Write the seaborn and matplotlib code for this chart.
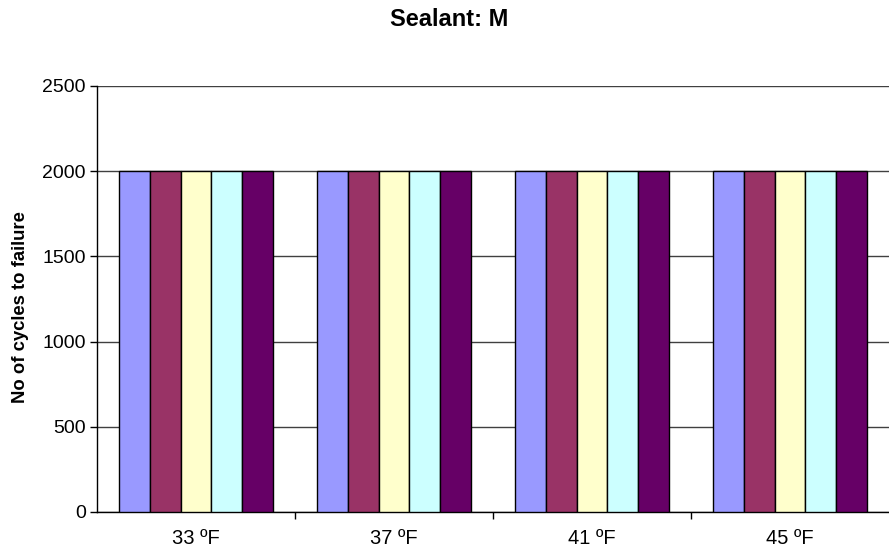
import numpy as np
import pandas as pd
import matplotlib
matplotlib.use("Agg")
import matplotlib.pyplot as plt
import seaborn as sns

# Data
temperatures = ["33 ºF", "37 ºF", "41 ºF", "45 ºF"]
series_names = ["Series1", "Series2", "Series3", "Series4", "Series5"]
cycles_s1 = [2000, 2000, 2000, 2000]
cycles_s2 = [2000, 2000, 2000, 2000]
cycles_s3 = [2000, 2000, 2000, 2000]
cycles_s4 = [2000, 2000, 2000, 2000]
cycles_s5 = [2000, 2000, 2000, 2000]
bar_colors = ["#9999FF", "#993366", "#FFFFCC", "#CCFFFF", "#660066"]

all_series = [cycles_s1, cycles_s2, cycles_s3, cycles_s4, cycles_s5]
df = pd.DataFrame({
    "Temperature": np.tile(temperatures, len(series_names)),
    "Series": np.repeat(series_names, len(temperatures)),
    "Cycles": np.concatenate(all_series),
})

sns.set_theme(style="white")
plt.rcParams["font.family"] = ["Liberation Sans", "DejaVu Sans"]
plt.rcParams["text.color"] = "black"
plt.rcParams["axes.labelcolor"] = "black"
plt.rcParams["xtick.color"] = "black"
plt.rcParams["ytick.color"] = "black"

fig = plt.figure(figsize=(8.89, 5.5), dpi=100)
ax = fig.add_axes([97 / 889, 1 - 512 / 550, 1 - 97 / 889, (512 - 86) / 550])

sns.barplot(
    data=df, x="Temperature", y="Cycles", hue="Series",
    order=temperatures, hue_order=series_names,
    palette=bar_colors, saturation=1, width=0.78, edgecolor="black",
    linewidth=1, legend=False, ax=ax, zorder=3,
)

ax.set_ylim(0, 2500)
ax.set_xlim(-0.5, 3.5)
ax.set_yticks(np.arange(0, 2501, 500))
ax.yaxis.grid(True, color="#404040", linewidth=1)
ax.set_axisbelow(True)

for side in ["top", "right"]:
    ax.spines[side].set_visible(False)
for side in ["left", "bottom"]:
    ax.spines[side].set_color("black")
    ax.spines[side].set_linewidth(1)

ax.tick_params(axis="y", which="major", left=True, length=5, width=1,
               labelsize=14, pad=3)
ax.tick_params(axis="x", which="major", bottom=False, labelsize=14.5, pad=6)
ax.set_xticks([0.5, 1.5, 2.5], minor=True)
ax.tick_params(axis="x", which="minor", bottom=True, length=5, width=1)

ax.set_xlabel("")
ax.set_ylabel("No of cycles to failure", fontsize=13.3, fontweight="bold")
ax.yaxis.set_label_coords(-68 / 792, (512 - 307) / 426)
fig.suptitle("Sealant: M", x=0.505, y=0.985, fontsize=17, fontweight="bold")

fig.savefig("out.png", dpi=100)
